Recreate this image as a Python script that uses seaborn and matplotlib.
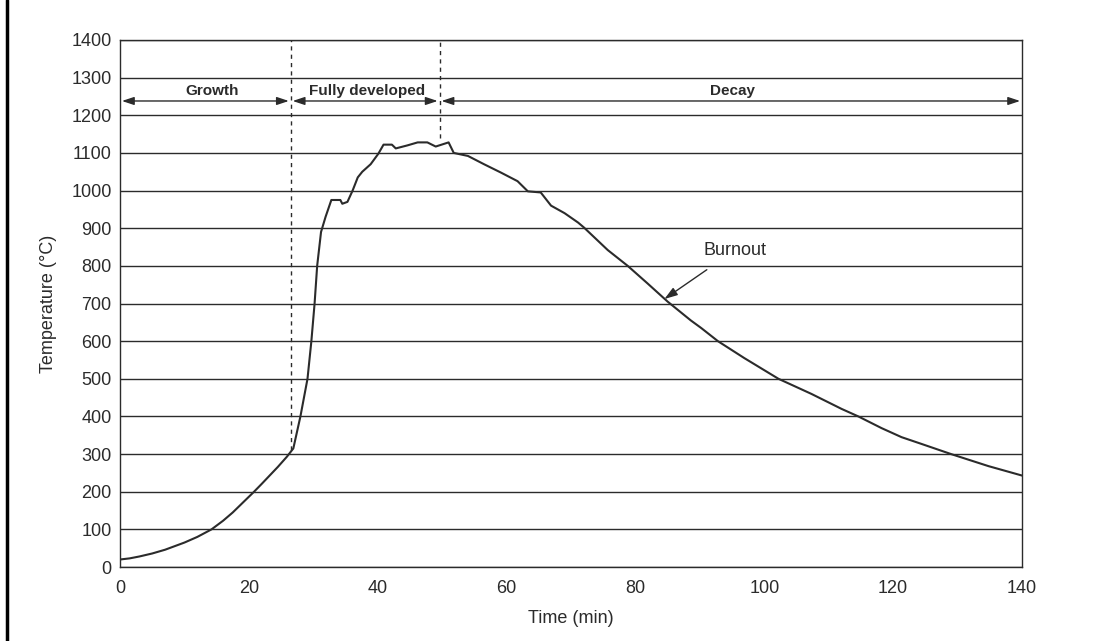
import matplotlib
matplotlib.use("Agg")
import matplotlib.pyplot as plt
import seaborn as sns
import pandas as pd
from matplotlib.lines import Line2D

# ---- data ----
time_min = [0, 1.5, 3, 5, 7, 10, 12, 14.2, 16, 17.5, 19, 20.8, 22, 23, 24.5, 25.9,
            26.9, 28, 29.1, 29.7, 30.2, 30.6, 31.2, 31.9, 32.8, 34.2, 34.5, 35.3,
            36.1, 36.9, 37.6, 38.9, 40.1, 40.9, 42.2, 42.8, 44.6, 46.2, 47.7, 49,
            51, 51.8, 52.9, 54, 56.5, 59.1, 61.7, 63.3, 65.3, 66.9, 69, 71.1, 72,
            75.7, 78.8, 81.9, 85, 88.6, 90.2, 92.8, 96.9, 102.2, 107.3, 112, 114.6,
            118.2, 121.3, 124.4, 129, 134.8, 140]
temperature = [20, 23, 28, 36, 46, 65, 80, 100, 123, 145, 170, 200, 221, 239, 266,
               293, 315, 400, 500, 600, 700, 800, 890, 930, 975, 975, 965, 970,
               1000, 1035, 1050, 1070, 1098, 1122, 1122, 1112, 1120, 1128, 1128, 1117,
               1128, 1100, 1096, 1092, 1070, 1048, 1025, 998, 995, 960, 940, 915, 902,
               842, 800, 753, 705, 655, 635, 600, 555, 500, 460, 420, 400,
               369, 345, 327, 300, 268, 243]

x_ticks = [0, 20, 40, 60, 80, 100, 120, 140]
y_ticks = list(range(0, 1401, 100))

phase_names = ["Growth", "Fully developed", "Decay"]
phase_bounds = [0, 26.5, 49.6, 140]
phase_label_x = [14.3, 38.4, 95]
divider_bottoms = [310, 1140]

burnout_text = "Burnout"
burnout_text_xy = (95.5, 842)
burnout_point = (84.5, 712)

ink = "#2b2b2b"

sns.set_theme(style="white")
plt.rcParams["font.family"] = ["Liberation Sans", "DejaVu Sans"]

fig = plt.figure(figsize=(10.96, 6.41), dpi=100)
ax = fig.add_axes([0.1095, 0.1154, 0.8230, 0.8222])

df = pd.DataFrame({"Time (min)": time_min, "Temperature": temperature})
sns.lineplot(data=df, x="Time (min)", y="Temperature", ax=ax, color=ink,
             linewidth=1.5, sort=False, estimator=None)

ax.set_xlim(0, 140)
ax.set_ylim(0, 1400)
ax.set_xticks(x_ticks)
ax.set_yticks(y_ticks)
ax.set_xticklabels([str(v) for v in x_ticks], fontsize=13, color=ink)
ax.set_yticklabels([str(v) for v in y_ticks], fontsize=13, color=ink)
ax.tick_params(axis="x", direction="in", length=6, width=1, color=ink, pad=9)
ax.tick_params(axis="y", length=0, pad=6)
ax.yaxis.grid(True, color=ink, linewidth=1.0)
ax.xaxis.grid(False)
ax.set_axisbelow(True)
for s in ax.spines.values():
    s.set_color(ink)
    s.set_linewidth(1.0)
    s.set_visible(True)

ax.set_xlabel("Time (min)", fontsize=13, color=ink, labelpad=10)
ax.set_ylabel("Temperature (\u00b0C)", fontsize=13, color=ink, labelpad=10)

# phase dividers
for xb, yb in zip(phase_bounds[1:3], divider_bottoms):
    ax.plot([xb, xb], [yb, 1400], linestyle=(0, (3, 3)), color=ink, linewidth=1.0)

# phase arrows and labels
for name, x0, x1, lx in zip(phase_names, phase_bounds[:-1], phase_bounds[1:], phase_label_x):
    ax.annotate("", xy=(x1 - 0.3, 1238), xytext=(x0 + 0.3, 1238),
                arrowprops=dict(arrowstyle="<|-|>,head_length=0.6,head_width=0.2",
                                color=ink, lw=1.0, shrinkA=0, shrinkB=0))
    ax.text(lx, 1265, name, ha="center", va="center", fontsize=11,
            fontweight="bold", color=ink)

# burnout annotation
ax.annotate(burnout_text, xy=burnout_point, xytext=burnout_text_xy,
            ha="center", va="center", fontsize=13, color=ink,
            arrowprops=dict(arrowstyle="-|>,head_length=0.6,head_width=0.2",
                            color=ink, lw=1.0, shrinkA=10, shrinkB=0))

# scan frame on the left edge
fig.add_artist(Line2D([0.0068, 0.0068], [0, 1], transform=fig.transFigure,
                      color="black", linewidth=2.5))

fig.savefig("out.png", dpi=100, facecolor="white")
